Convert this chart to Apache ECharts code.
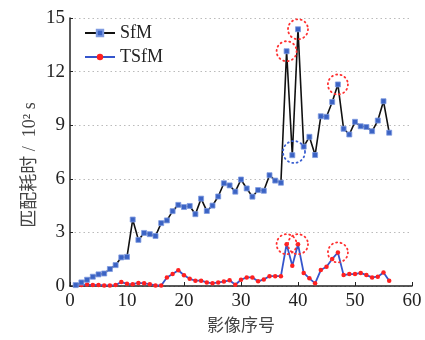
<!DOCTYPE html>
<html>
<head>
<meta charset="utf-8">
<script src="https://cdn.jsdelivr.net/npm/echarts@6/dist/echarts.min.js"></script>
<style>html,body{margin:0;padding:0;background:#fff;}#c{width:425px;height:340px;}</style>
</head>
<body>
<div id="c"></div>
<script>
const imageIndex = [1,2,3,4,5,6,7,8,9,10,11,12,13,14,15,16,17,18,19,20,21,22,23,24,25,26,27,28,29,30,31,32,33,34,35,36,37,38,39,40,41,42,43,44,45,46,47,48,49,50,51,52,53,54,55,56];
const sfm = [0.05,0.2,0.35,0.52,0.65,0.7,0.95,1.17,1.6,1.63,3.72,2.58,2.97,2.9,2.8,3.52,3.67,4.19,4.54,4.42,4.48,4.02,4.89,4.2,4.5,5.01,5.75,5.63,5.28,5.96,5.46,5.0,5.37,5.33,6.2,5.9,5.78,13.14,7.32,14.37,7.8,8.35,7.33,9.5,9.47,10.3,11.28,8.8,8.48,9.19,8.94,8.9,8.66,9.26,10.34,8.58];
const tsfm = [0.05,0.05,0.08,0.05,0.06,0.03,0.03,0.05,0.22,0.12,0.1,0.17,0.15,0.1,0.03,0.03,0.48,0.67,0.88,0.6,0.4,0.3,0.3,0.2,0.15,0.2,0.25,0.32,0.07,0.35,0.48,0.48,0.26,0.37,0.55,0.55,0.55,2.34,1.13,2.34,0.73,0.43,0.15,0.89,1.08,1.51,1.88,0.61,0.67,0.67,0.73,0.61,0.48,0.52,0.76,0.3];
const yTicks = [0,3,6,9,12,15];
const xTicks = [0,10,20,30,40,50,60];
const highlighted = [38,40,47];
const dipCenter = [39.3, 7.5];

const font = "'Liberation Serif','Times New Roman','Noto Sans CJK SC',serif";
const pairs = (ys) => imageIndex.map((x,i)=>[x, ys[i]]);
const redRing = {color:'rgba(0,0,0,0)', borderColor:'#ff3030', borderWidth:1.8, borderType:[1,3.5], borderCap:'round'};
const blueRing = {color:'rgba(0,0,0,0)', borderColor:'#3a5fd0', borderWidth:1.8, borderType:[1,3.5], borderCap:'round'};
const ringsFor = (ys) => highlighted.map(x => ({coord:[x, ys[imageIndex.indexOf(x)]], itemStyle:redRing}));

const chart = echarts.init(document.getElementById('c'), null, {renderer:'canvas'});
chart.setOption({
  backgroundColor:'#fff',
  animation:false,
  grid:{left:70, right:13, top:18, bottom:53},
  legend:{
    orient:'vertical', left:79, top:19, itemWidth:30, itemHeight:8, itemGap:6,
    textStyle:{fontFamily:font, fontSize:18, color:'#222'},
    data:['SfM','TSfM']
  },
  xAxis:{
    type:'value', min:xTicks[0], max:xTicks[xTicks.length-1], interval:10,
    name:'影像序号', nameLocation:'middle', nameGap:32, nameMoveOverlap:false,
    nameTextStyle:{fontFamily:font, fontSize:17, color:'#444'},
    axisLine:{show:true, lineStyle:{color:'#222', width:1.5}},
    axisTick:{show:true, inside:true, length:4, lineStyle:{color:'#222'}},
    axisLabel:{fontFamily:font, fontSize:19, color:'#222', margin:6},
    splitLine:{show:false}
  },
  yAxis:{
    type:'value', min:yTicks[0], max:yTicks[yTicks.length-1], interval:3,
    name:'匹配耗时 /  10² s', nameLocation:'middle', nameGap:31, nameMoveOverlap:false,
    nameTextStyle:{fontFamily:font, fontSize:18, color:'#444', padding:[0,26,0,0]},
    axisLine:{show:true, lineStyle:{color:'#222', width:1.5}},
    axisTick:{show:true, inside:true, length:3, lineStyle:{color:'#222'}},
    axisLabel:{fontFamily:font, fontSize:19, color:'#222', margin:5},
    splitLine:{show:true, lineStyle:{color:'#bbb', type:[1.5,3], width:1.2}}
  },
  series:[
    {
      name:'SfM', type:'line', data:pairs(sfm),
      symbol:'rect', symbolSize:5, z:3,
      lineStyle:{color:'#111', width:1.6},
      itemStyle:{color:'#3b63c4', borderColor:'#7f9be0', borderWidth:0.8},
      markPoint:{
        symbol:'circle', symbolSize:20, label:{show:false}, silent:true,
        data: ringsFor(sfm).concat([{coord:dipCenter, symbolSize:22, itemStyle:blueRing}])
      }
    },
    {
      name:'TSfM', type:'line', data:pairs(tsfm),
      symbol:'circle', symbolSize:4.5, z:2,
      lineStyle:{color:'#3555cc', width:1.8},
      itemStyle:{color:'#ff2020', borderWidth:0},
      markPoint:{
        symbol:'circle', symbolSize:20, label:{show:false}, silent:true,
        data: ringsFor(tsfm)
      }
    }
  ]
});
</script>
</body>
</html>
